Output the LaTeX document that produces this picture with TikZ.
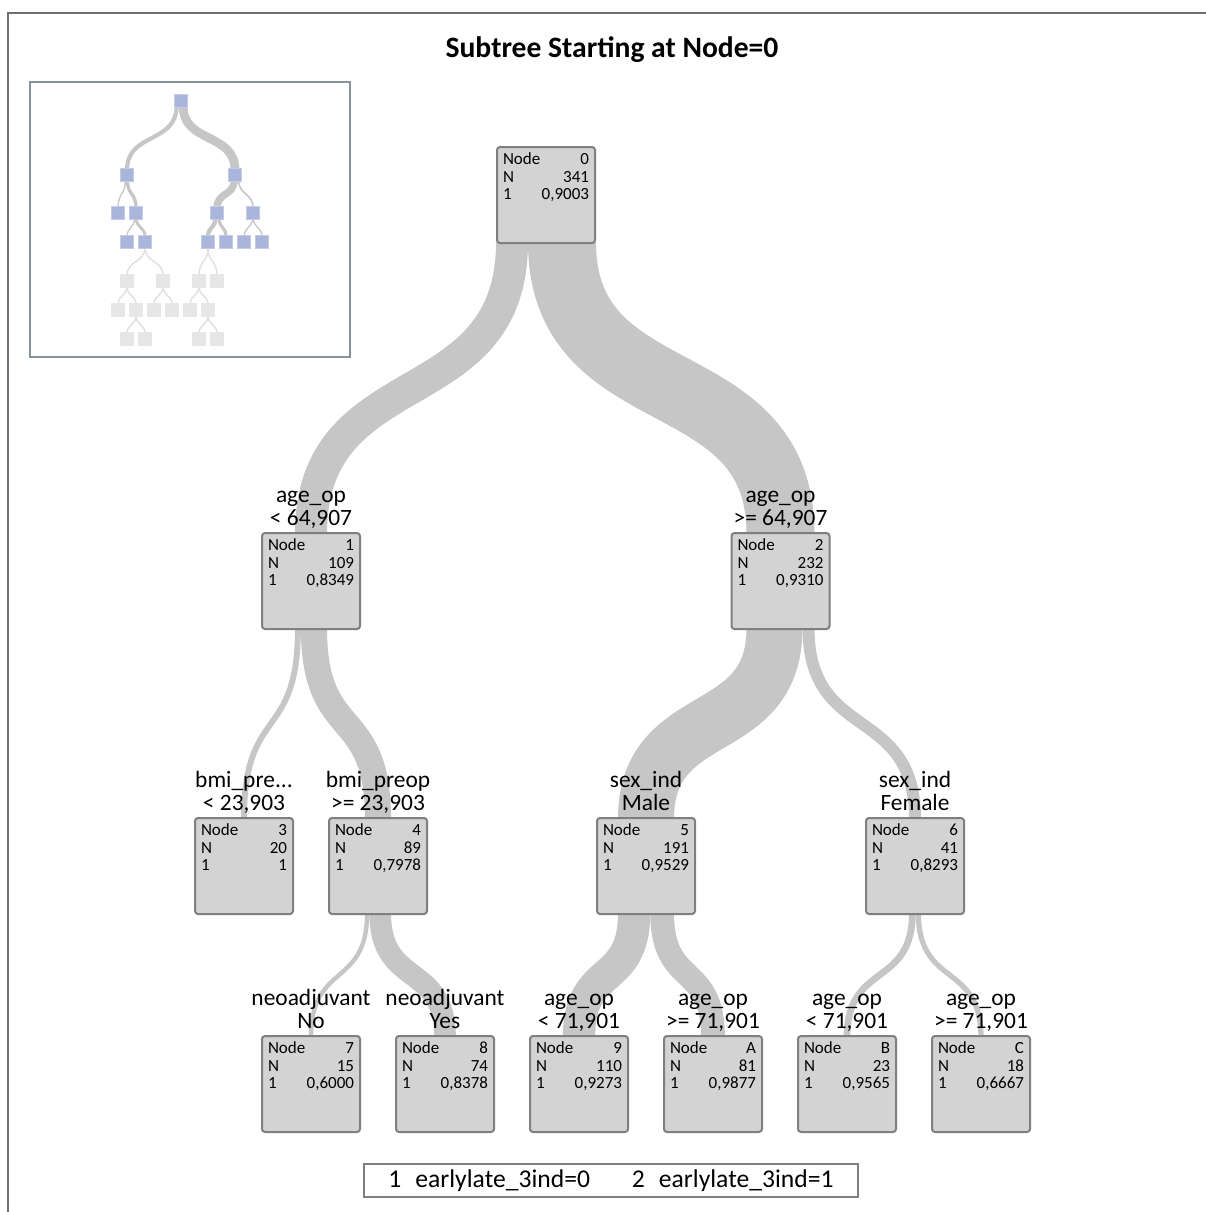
\documentclass[tikz,border=0pt]{standalone}
\usepackage{fontspec}
\setmainfont{Carlito}
\usetikzlibrary{calc,positioning}

\definecolor{boxgray}{HTML}{D3D3D3}
\definecolor{boxedge}{HTML}{7F7F7F}
\definecolor{bandgray}{HTML}{C6C6C6}
\definecolor{framegray}{HTML}{6E6E6E}
\definecolor{insetedge}{HTML}{8A9199}
\definecolor{miniblue}{HTML}{A9B5DA}
\definecolor{minigray}{HTML}{E6E6E6}
\definecolor{minibandlt}{HTML}{E0E0E0}

\pgfdeclarelayer{bg}
\pgfsetlayers{bg,main}

% box text: node id, count, share of class 1
\newcommand{\stats}[3]{\begin{minipage}[t][42pt][t]{43pt}
Node\hfill #1\\N\hfill #2\\1\hfill #3\end{minipage}}

% band: parent, child, offset at parent (px), width (pt), control (px)
\newcommand{\flow}[6][band]{%
  \draw[#1, line width=#5pt] ($(#2.south)+(#4,-2)$) .. controls +(0,#6) and +(0,-#6) .. ($(#3.north)+(0,2)$);}

\tikzset{
  treenode/.style={draw=boxedge, fill=boxgray, line width=1pt, rounded corners=1.5pt,
    inner sep=3pt, anchor=north, font=\fontsize{8.5}{8.75}\selectfont},
  cond/.style={align=center, inner sep=0pt, text depth=1.5pt, font=\fontsize{11.7}{11.5}\selectfont},
  band/.style={draw=bandgray},
  miniband/.style={draw=bandgray},
  minilt/.style={draw=minibandlt},
  minisq/.style={minimum size=6.5pt, inner sep=0pt, fill=miniblue, draw=miniblue!70!white, line width=0.4pt},
  minigr/.style={minisq, fill=minigray, draw=minigray}
}

\begin{document}
\begin{tikzpicture}[x=0.5pt, y=-0.5pt]
    \useasboundingbox (0,0) rectangle (1206,1212);

    % frame
    \draw[framegray, line width=1pt] (8,1212) -- (8,13) -- (1206,13);
    \node[font=\bfseries\fontsize{14.8}{16}\selectfont] (title) at (612,50) {Subtree Starting at Node=0};

    % tree nodes
    \node[treenode] (n0) at (546,146) {\stats{0}{341}{0,9003}};
    \node[treenode] (n1) at (311,532) {\stats{1}{109}{0,8349}};
    \node[treenode] (n2) at (780.5,532) {\stats{2}{232}{0,9310}};
    \node[treenode] (n3) at (244,817) {\stats{3}{20}{1}};
    \node[treenode] (n4) at (378,817) {\stats{4}{89}{0,7978}};
    \node[treenode] (n5) at (646,817) {\stats{5}{191}{0,9529}};
    \node[treenode] (n6) at (915,817) {\stats{6}{41}{0,8293}};
    \node[treenode] (n7) at (311,1035) {\stats{7}{15}{0,6000}};
    \node[treenode] (n8) at (445,1035) {\stats{8}{74}{0,8378}};
    \node[treenode] (n9) at (579,1035) {\stats{9}{110}{0,9273}};
    \node[treenode] (nA) at (713,1035) {\stats{A}{81}{0,9877}};
    \node[treenode] (nB) at (847,1035) {\stats{B}{23}{0,9565}};
    \node[treenode] (nC) at (981,1035) {\stats{C}{18}{0,6667}};

    % split labels
    \node[cond, above=1.5pt of n1] (c1) {age\_op\\< 64,907};
    \node[cond, above=1.5pt of n2] (c2) {age\_op\\>= 64,907};
    \node[cond, above=1.5pt of n3] (c3) {bmi\_pre...\\< 23,903};
    \node[cond, above=1.5pt of n4] (c4) {bmi\_preop\\>= 23,903};
    \node[cond, above=1.5pt of n5] (c5) {sex\_ind\\Male};
    \node[cond, above=1.5pt of n6] (c6) {sex\_ind\\Female};
    \node[cond, above=1.5pt of n7] (c7) {neoadjuvant\\No};
    \node[cond, above=1.5pt of n8] (c8) {neoadjuvant\\Yes};
    \node[cond, above=1.5pt of n9] (c9) {age\_op\\< 71,901};
    \node[cond, above=1.5pt of nA] (cA) {age\_op\\>= 71,901};
    \node[cond, above=1.5pt of nB] (cB) {age\_op\\< 71,901};
    \node[cond, above=1.5pt of nC] (cC) {age\_op\\>= 71,901};

    % bands
    \begin{pgfonlayer}{bg}
    \flow{n0}{n1}{-34}{16}{175}
    \flow{n0}{n2}{16}{34}{175}
    \flow{n1}{n3}{-13.05}{2.93}{115}
    \flow{n1}{n4}{2.94}{13.05}{115}
    \flow{n2}{n5}{-6.01}{28}{115}
    \flow{n2}{n6}{28}{6}{115}
    \flow{n4}{n7}{-10.85}{2.2}{75}
    \flow{n4}{n8}{2.2}{10.85}{75}
    \flow{n5}{n9}{-11.87}{16.13}{75}
    \flow{n5}{nA}{16.14}{11.88}{75}
    \flow{n6}{nB}{-2.64}{3.37}{75}
    \flow{n6}{nC}{3.37}{2.64}{75}
    \end{pgfonlayer}

    % overview
    \draw[insetedge, line width=1pt] (30,82) rectangle (350,357);
    \foreach \nm/\x/\y in {m0/181/101, m1/127/175, m2/235/175, m3/118/213, m4/136/213,
        m5/217/213, m6/253/213, m7/127/242, m8/145/242, m9/208/242, mA/226/242,
        mB/244/242, mC/262/242}
      \node[minisq] (\nm) at (\x,\y) {};
    \foreach \nm/\x/\y in {g1/127/281, g2/163/281, g3/199/281, g4/217/281,
        g5/118/310, g6/136/310, g7/154/310, g8/172/310, g9/190/310, g10/208/310,
        g11/127/339, g12/145/339, g13/199/339, g14/217/339}
      \node[minigr] (\nm) at (\x,\y) {};
    \begin{pgfonlayer}{bg}
    \foreach \p/\c/\o/\w/\h in {m0/m1/-4.4/2.1/38, m0/m2/2.1/4.4/38,
        m1/m3/-1.7/0.65/16, m1/m4/0.4/1.7/16, m2/m5/-0.75/3.65/16, m2/m6/3.7/0.8/16,
        m4/m7/-1.4/0.65/11, m4/m8/0.3/1.4/11, m5/m9/-1.55/2.1/11, m5/mA/2.1/1.55/11,
        m6/mB/-0.4/0.65/11, m6/mC/0.4/0.65/11}
      {\flow[miniband]{\p}{\c}{\o}{\w}{\h}}
    \foreach \p/\c/\h in {m8/g1/17, m8/g2/17, m9/g3/17, m9/g4/17,
        g1/g5/11, g1/g6/11, g2/g7/11, g2/g8/11, g3/g9/11, g3/g10/11,
        g6/g11/11, g6/g12/11, g10/g13/11, g10/g14/11}
      {\flow[minilt]{\p}{\c}{0}{0.75}{\h}}
    \end{pgfonlayer}

    % legend
    \node[draw=boxedge, line width=1pt, minimum width=247pt, minimum height=16.5pt, inner sep=0pt,
      font=\fontsize{12.8}{13}\selectfont] (legend) at (611,1180.5)
      {1\hspace{7pt}earlylate\_3ind=0\hspace{21pt}2\hspace{7pt}earlylate\_3ind=1};
\end{tikzpicture}
\end{document}
